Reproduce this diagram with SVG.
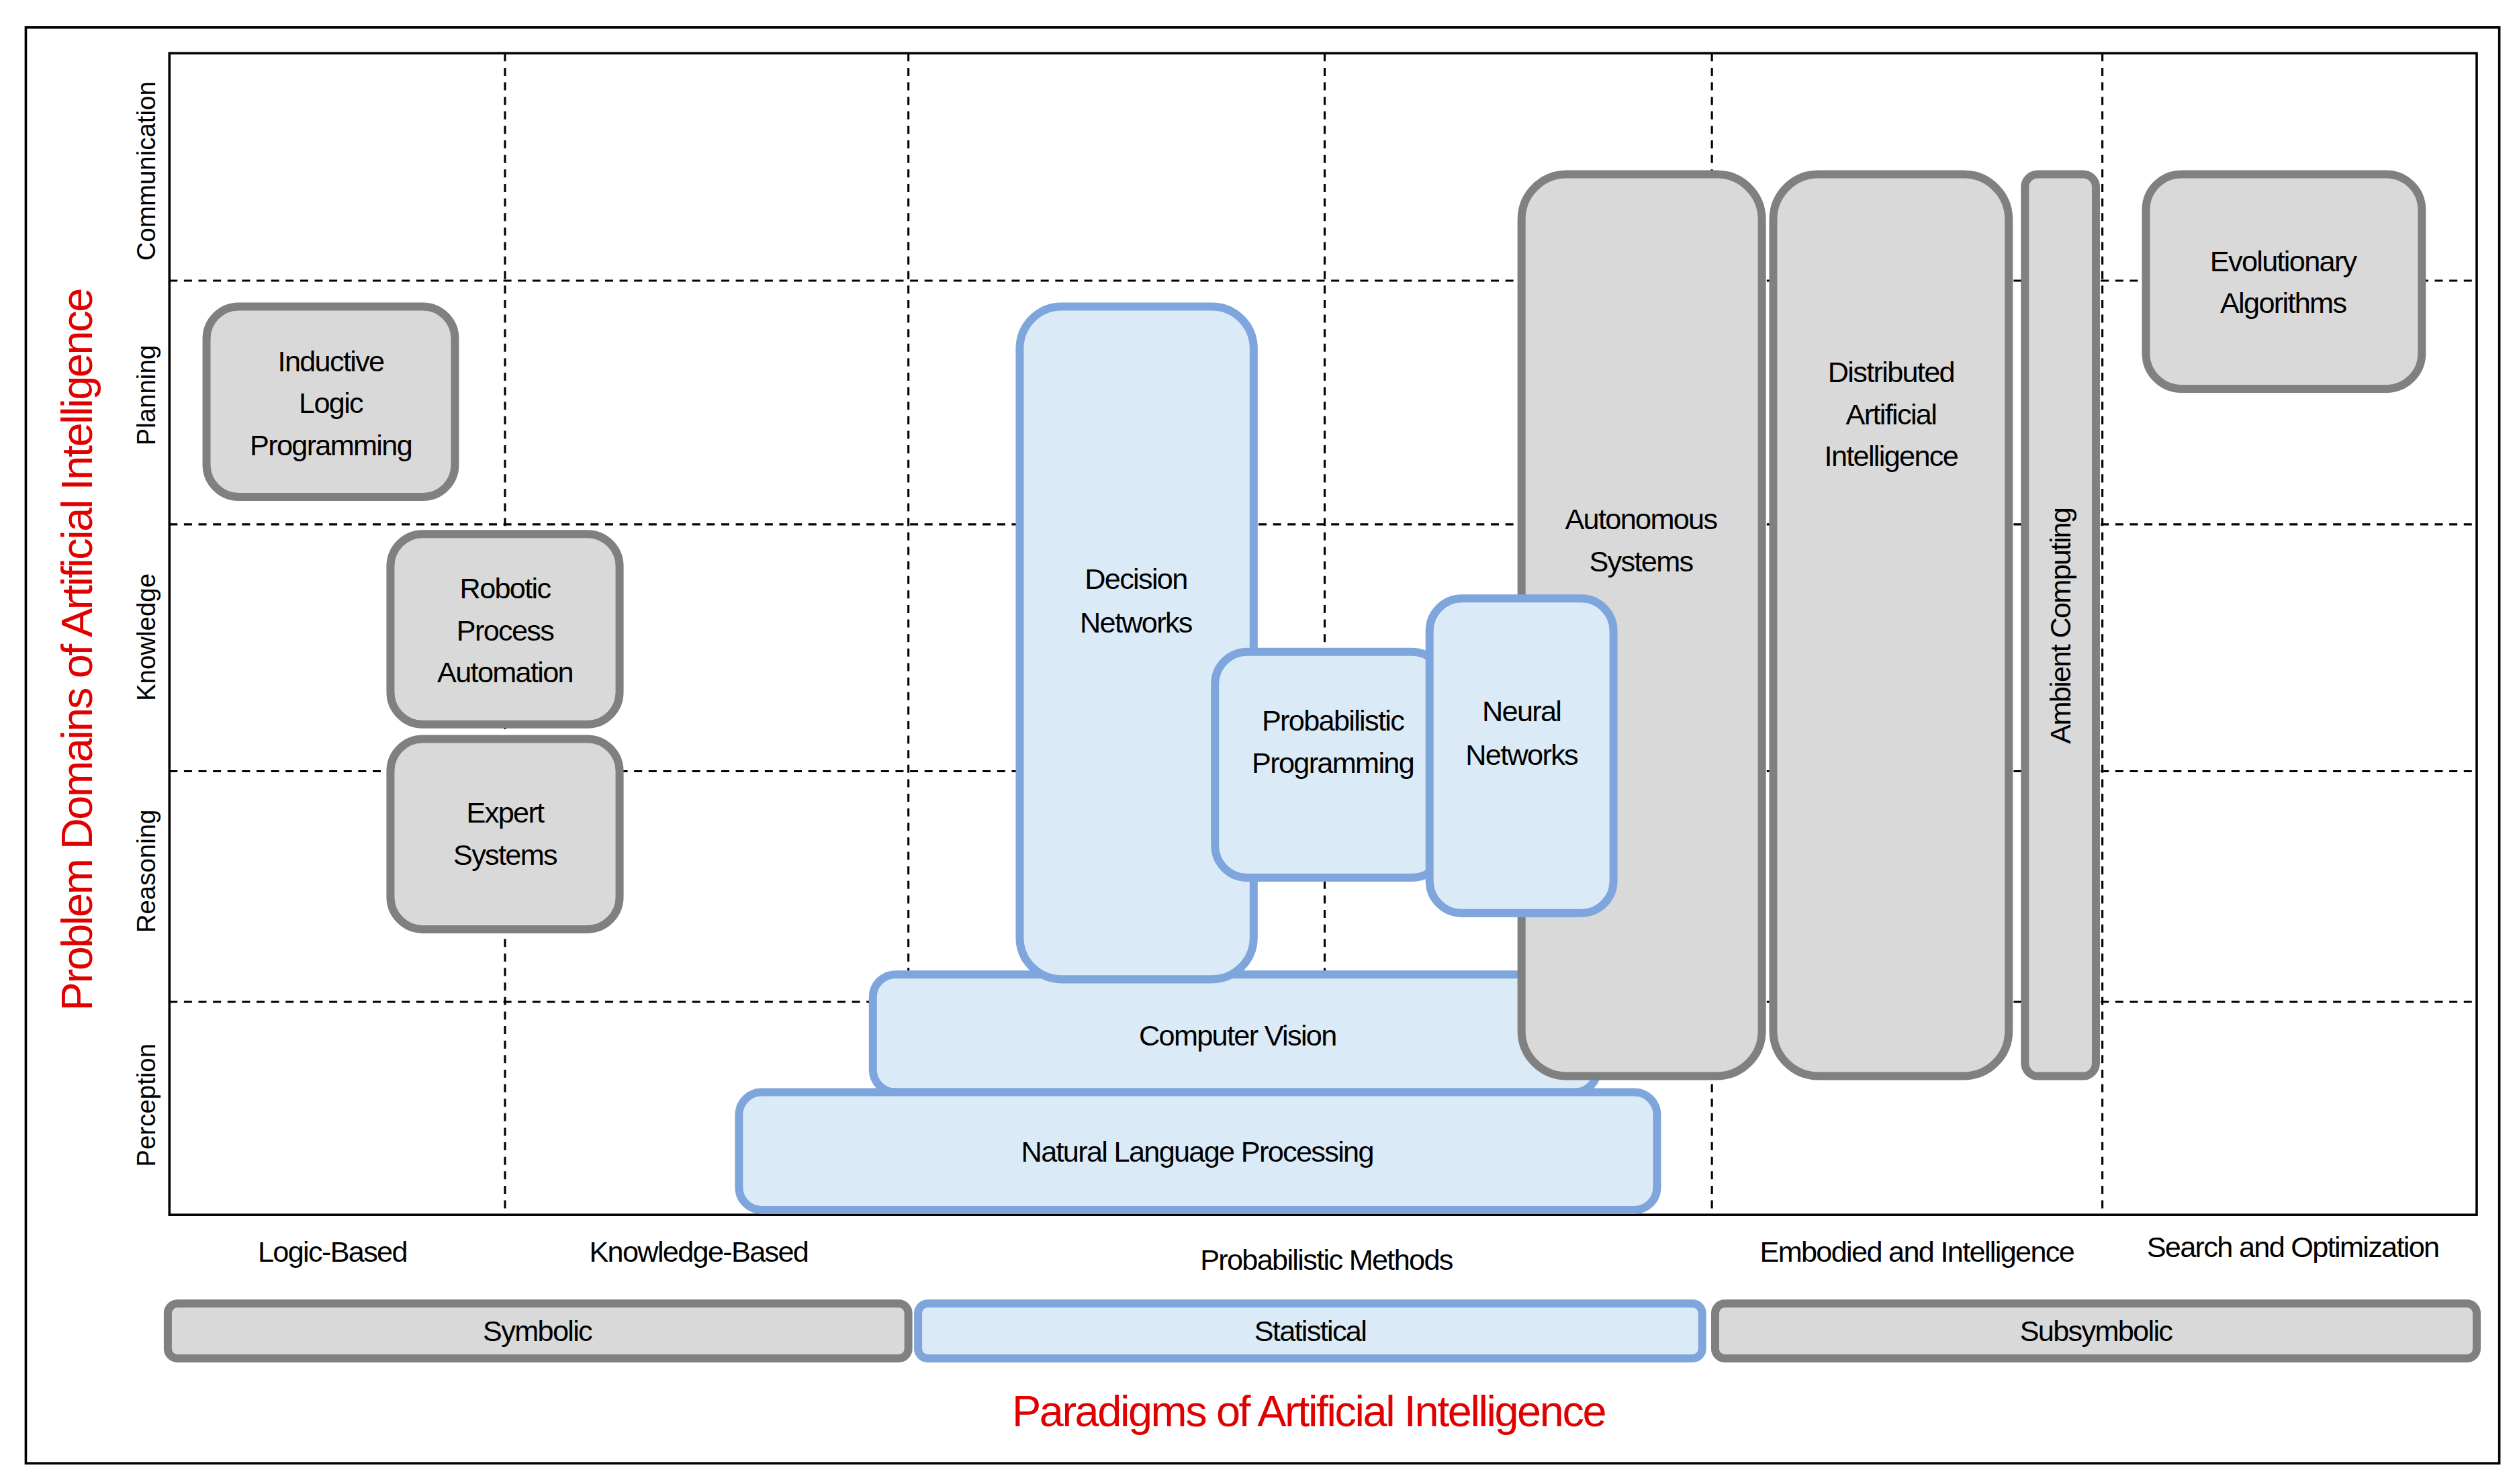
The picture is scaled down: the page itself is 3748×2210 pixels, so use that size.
<svg xmlns="http://www.w3.org/2000/svg" width="3748" height="2210" viewBox="0 0 3748 2210">
<style>
.g{fill:#d9d9d9;stroke:#808080;stroke-width:5}
.b{fill:#dbeaf7;stroke:#7ea6dc;stroke-width:5}
.t{font-family:"Liberation Sans Narrow","Liberation Sans",sans-serif;font-size:18px;letter-spacing:-0.7px;fill:#000;text-anchor:middle}
.r{font-family:"Liberation Sans",sans-serif;font-size:16px;fill:#000;text-anchor:middle}
.d{stroke:#000;stroke-width:1.3;stroke-dasharray:5 4;fill:none}
.red{font-family:"Liberation Sans Narrow","Liberation Sans",sans-serif;fill:#e00000;text-anchor:middle;letter-spacing:-1px}
</style>
<rect width="3748" height="2210" fill="#fff"/>
<g transform="scale(2.4026)">
<rect x="16" y="17" width="1533" height="890" fill="none" stroke="#000" stroke-width="1.5"/>
<g id="grid">
<rect x="105" y="33" width="1430" height="720" fill="none" stroke="#000" stroke-width="1.5"/>
<path class="d" d="M105 174H1535M105 325H1535M105 478H1535M105 621H1535M313 33V753M563 33V753M821 33V753M1061 33V753M1303 33V753"/>
</g>
<g id="rowlabels">
<text class="r" transform="translate(96,106) rotate(-90)">Communication</text>
<text class="r" transform="translate(96,245) rotate(-90)">Planning</text>
<text class="r" transform="translate(96,395) rotate(-90)">Knowledge</text>
<text class="r" transform="translate(96,540) rotate(-90)">Reasoning</text>
<text class="r" transform="translate(96,685) rotate(-90)">Perception</text>
<text class="red" font-size="27" transform="translate(57,403) rotate(-90)">Problem Domains of Artificial Intelligence</text>
</g>
<g id="connectors"></g>
<g id="ilp"><rect class="g" x="128" y="190" width="154" height="118" rx="20"/><text class="t" x="205" y="230">Inductive</text><text class="t" x="205" y="256">Logic</text><text class="t" x="205" y="282">Programming</text></g>
<g id="rpa"><rect class="g" x="242" y="331" width="142" height="118" rx="20"/><text class="t" x="313" y="371">Robotic</text><text class="t" x="313" y="397">Process</text><text class="t" x="313" y="423">Automation</text></g>
<g id="expert"><rect class="g" x="242" y="458" width="142" height="118" rx="20"/><text class="t" x="313" y="510">Expert</text><text class="t" x="313" y="536">Systems</text></g>
<g id="cv"><rect class="b" x="541" y="604" width="449" height="73" rx="14"/><text class="t" x="767" y="648">Computer Vision</text></g>
<g id="autonomous"><rect class="g" x="943" y="108" width="149" height="559" rx="28"/><text class="t" x="1017" y="328">Autonomous</text><text class="t" x="1017" y="354">Systems</text></g>
<g id="dai"><rect class="g" x="1099" y="108" width="146" height="559" rx="28"/><text class="t" x="1172" y="237">Distributed</text><text class="t" x="1172" y="263">Artificial</text><text class="t" x="1172" y="289">Intelligence</text></g>
<g id="ambient"><rect class="g" x="1255" y="108" width="44" height="559" rx="8"/><text class="t" transform="translate(1283,388) rotate(-90)">Ambient Computing</text></g>
<g id="evo"><rect class="g" x="1330" y="108" width="171" height="133" rx="22"/><text class="t" x="1415" y="168">Evolutionary</text><text class="t" x="1415" y="194">Algorithms</text></g>
<g id="decision"><rect class="b" x="632" y="190" width="145" height="417" rx="26"/><text class="t" x="704" y="365">Decision</text><text class="t" x="704" y="392">Networks</text></g>
<g id="probprog"><rect class="b" x="753" y="404" width="142" height="140" rx="20"/><text class="t" x="826" y="453">Probabilistic</text><text class="t" x="826" y="479">Programming</text></g>
<g id="neural"><rect class="b" x="886" y="371" width="114" height="195" rx="20"/><text class="t" x="943" y="447">Neural</text><text class="t" x="943" y="474">Networks</text></g>
<g id="nlp"><rect class="b" x="458" y="677" width="569" height="73" rx="14"/><text class="t" x="742" y="720">Natural Language Processing</text></g>
<g id="xlabels">
<text class="t" x="206" y="782">Logic-Based</text>
<text class="t" x="433" y="782">Knowledge-Based</text>
<text class="t" x="822" y="787">Probabilistic Methods</text>
<text class="t" x="1188" y="782">Embodied and Intelligence</text>
<text class="t" x="1421" y="779">Search and Optimization</text>
</g>
<g id="symbolic"><rect class="g" x="104" y="808" width="459" height="34" rx="6"/><text class="t" x="333" y="831">Symbolic</text></g>
<g id="statistical"><rect class="b" x="569" y="808" width="486" height="34" rx="6"/><text class="t" x="812" y="831">Statistical</text></g>
<g id="subsymbolic"><rect class="g" x="1063" y="808" width="472" height="34" rx="6"/><text class="t" x="1299" y="831">Subsymbolic</text></g>
<text class="red" font-size="27" x="811" y="884">Paradigms of Artificial Intelligence</text>
</g>
</svg>
